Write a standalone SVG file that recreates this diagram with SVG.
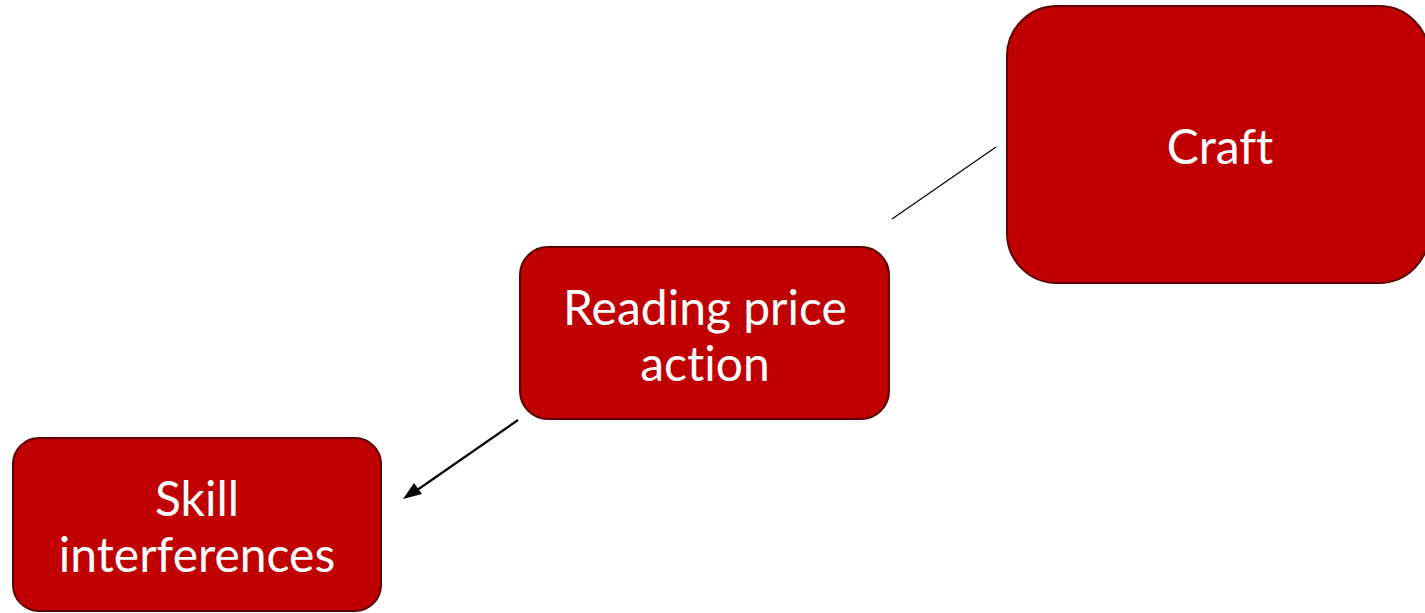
<svg xmlns="http://www.w3.org/2000/svg" width="1425" height="613" viewBox="0 0 1425 613">
<style>
.box{fill:#C00000;stroke:#5a0000;stroke-width:2}
.t{font-family:Lato,"Open Sans",sans-serif;font-size:48px;fill:#ffffff;text-anchor:middle;font-variant-ligatures:none}
.c{stroke:#000;fill:none}
</style>
<rect width="1425" height="613" fill="#fff"/>
<g id="connectors">
<line class="c" x1="892" y1="219" x2="996" y2="147" stroke-width="1.2"/>
<line class="c" x1="518" y1="420" x2="410" y2="495" stroke-width="2.2"/>
<path d="M403,499 L414,483 L422,494 z" fill="#000"/>
</g>
<g id="craft">
<rect class="box" x="1007" y="6" width="422" height="277" rx="50"/>
<text class="t" x="1220" y="164">Craft</text>
</g>
<g id="reading">
<rect class="box" x="520" y="247" width="369" height="172" rx="28"/>
<text class="t" x="705" y="325">Reading price</text>
<text class="t" x="705" y="381">action</text>
</g>
<g id="skill">
<rect class="box" x="13" y="438" width="368" height="173" rx="26"/>
<text class="t" x="197" y="516">Skill</text>
<text class="t" x="197" y="572">interferences</text>
</g>
</svg>
